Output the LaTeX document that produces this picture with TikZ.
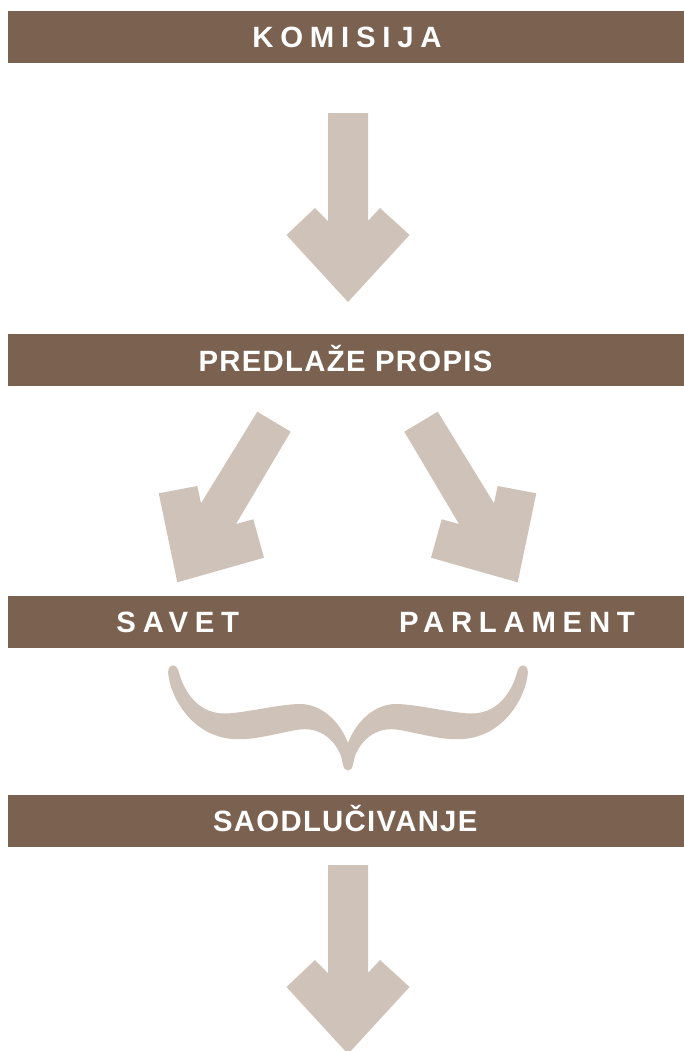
\documentclass[tikz,border=0pt]{standalone}
\usepackage{fontspec}
\setmainfont{Liberation Sans}
\newfontfamily\widefont{Liberation Sans}[LetterSpace=23]
\newfontfamily\tightfont{Liberation Sans}[LetterSpace=4.4]
\definecolor{barbrown}{HTML}{7A6150}
\definecolor{arrowtan}{HTML}{CFC2B8}
\tikzset{
  bar/.style={fill=barbrown, draw=none, minimum width=507pt, minimum height=39pt, inner sep=0pt},
  lbl/.style={text=white, inner sep=0pt, anchor=base, font=\tightfont\bfseries\fontsize{22}{22}\selectfont},
  lblwide/.style={lbl, font=\widefont\bfseries\fontsize{22}{22}\selectfont},
  blockarrow/.style={fill=arrowtan, draw=none},
  downarrow/.pic={
    \fill[blockarrow] (-20,0) -- (20,0) -- (20,108) -- (32,95) -- (61.5,122) -- (0,189)
      -- (-61.5,122) -- (-33,95) -- (-20,108) -- cycle;
  }
}
\begin{document}
\begin{tikzpicture}[x=0.75pt,y=-0.75pt]
\clip (0,0) rectangle (684,1051);
\fill[white] (0,0) rectangle (684,1051);

% bars
\node[bar] (bar1) at (346,36.8) {};
\node[bar] (bar2) at (346,360) {};
\node[bar] (bar3) at (346,621.7) {};
\node[bar] (bar4) at (346,821) {};

% labels
\node[lblwide] (komisija) at (347,47.3) {KOMISIJA};
\node[lbl] (predlaze) at (345.5,371.7) {PREDLAŽE PROPIS};
\node[lblwide, anchor=base west] (savet) at (116.2,632.7) {SAVET};
\node[lblwide, anchor=base east] (parlament) at (635.2,632.7) {PARLAMENT};
\node[lbl] (saodl) at (345.3,831.7) {SAODLUČIVANJE};

% vertical arrows
\pic at (348,113) {downarrow};
\pic at (348,865) {downarrow};

% diagonal arrows
\fill[blockarrow] (257.3,411.7) -- (290.7,431.7) -- (236,524) -- (253.3,519.3) -- (264,557.7)
  -- (177.3,582.3) -- (158.7,493.3) -- (197.3,486) -- (201,503.3) -- cycle;
\fill[blockarrow] (437.7,411.7) -- (404.3,431.7) -- (459,524) -- (441.7,519.3) -- (431,557.7)
  -- (517.7,582.3) -- (536.3,493.3) -- (497.7,486) -- (494,503.3) -- cycle;

% brace
\fill[blockarrow] (168.5,676)
  .. controls (172,700) and (192,733) .. (228,738.5)
  .. controls (252,742) and (280,732) .. (300,729.5)
  .. controls (320,727) and (335,740) .. (341,756)
  .. controls (343,761) and (342,770.5) .. (348,770.5)
  .. controls (354,770.5) and (353,761) .. (355,756)
  .. controls (361,740) and (376,727) .. (396,729.5)
  .. controls (416,732) and (444,742) .. (468,738.5)
  .. controls (504,733) and (524,700) .. (527.5,676)
  .. controls (530,664) and (520,662) .. (517.5,671)
  .. controls (511,695) and (496,714) .. (470,713.5)
  .. controls (451,713) and (416,704) .. (396,704)
  .. controls (374,704) and (356,722) .. (348,743)
  .. controls (340,722) and (322,704) .. (300,704)
  .. controls (280,704) and (245,713) .. (226,713.5)
  .. controls (200,714) and (185,695) .. (178.5,671)
  .. controls (176,662) and (166,664) .. (168.5,676) -- cycle;
\end{tikzpicture}
\end{document}
